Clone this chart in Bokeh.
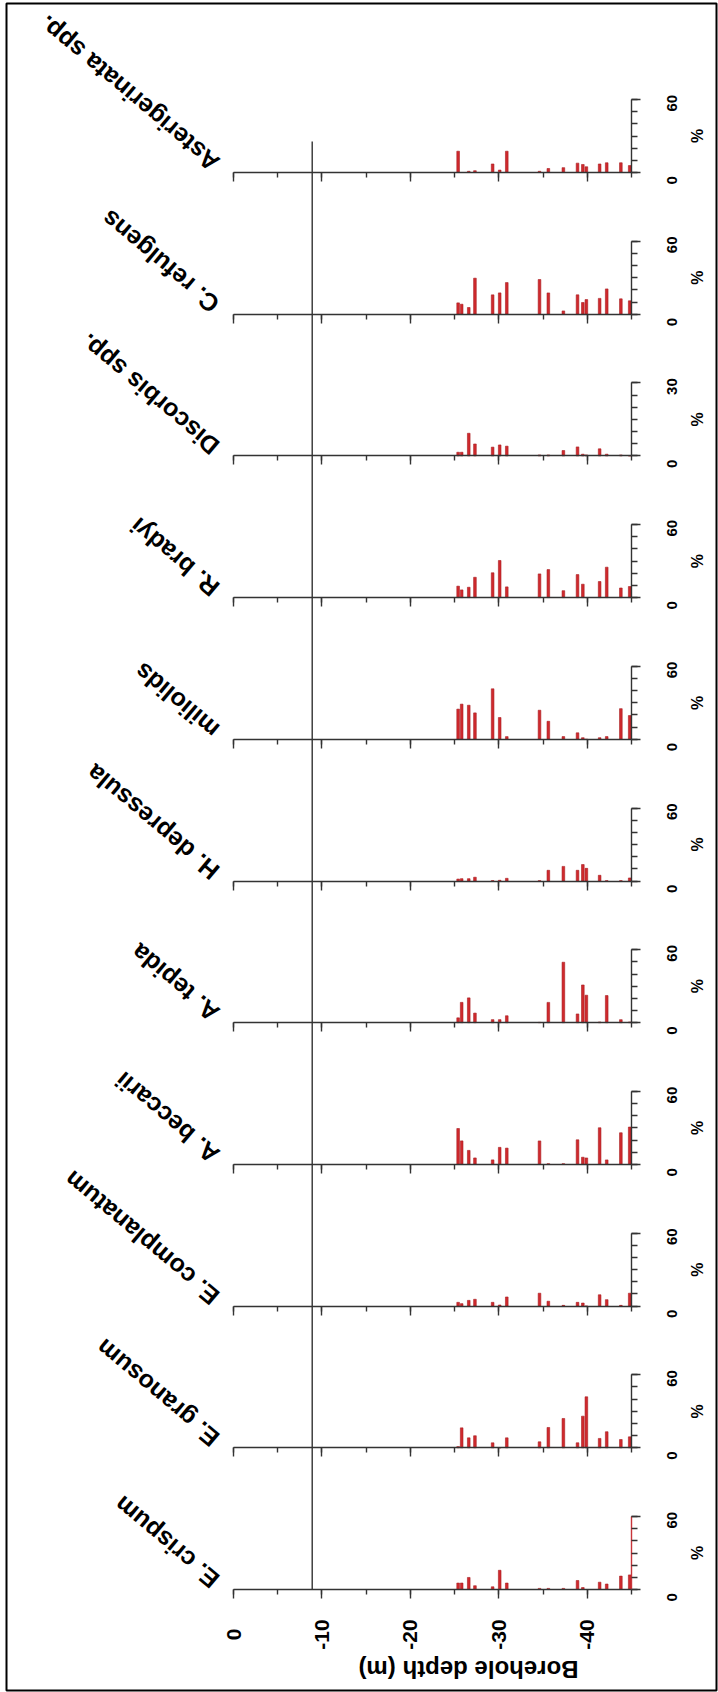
import math
from bokeh.plotting import figure
from bokeh.models import Range1d, LinearAxis, SingleIntervalTicker, FixedTicker
from bokeh.core.properties import value
from bokeh.embed import file_html
from bokeh.resources import INLINE

# ---------------- data ----------------
species = ["E. crispum", "E. granosum", "E. complanatum", "A. beccarii", "A. tepida",
           "H. depressula", "miliolids", "R. bradyi", "Discorbis spp.", "C. refulgens",
           "Asterigerinata spp."]
pct_max = [60, 60, 60, 60, 60, 60, 60, 60, 30, 60, 60]

depths = [-25.4, -25.8, -26.6, -27.3, -29.3, -30.1, -30.9, -34.6, -35.6, -37.3,
          -38.9, -39.5, -39.9, -41.4, -42.2, -43.8, -44.8]

e_crispum = [5.3, 5.3, 9.9, 3.1, 2.2, 15.8, 5.3, 0.9, 0.9, 0.9, 7.4, 1.6, 0.0, 6.0, 4.5, 11.0, 12.0]
e_granosum = [1.0, 16.4, 8.2, 9.9, 4.1, 0.0, 8.2, 4.9, 16.7, 24.1, 4.1, 26.0, 41.9, 7.7, 13.2, 6.8, 9.0]
e_complanatum = [3.1, 2.0, 4.7, 5.6, 3.1, 0.9, 7.5, 10.6, 4.0, 0.6, 3.1, 2.5, 0.0, 9.3, 5.3, 0.6, 10.6]
a_beccarii = [29.5, 19.3, 11.5, 5.3, 3.7, 14.0, 13.4, 19.3, 0.6, 0.6, 20.2, 5.9, 5.3, 30.1, 3.7, 26.0, 30.7]
a_tepida = [4.0, 16.7, 20.4, 7.9, 2.5, 2.5, 5.7, 0.3, 16.7, 49.7, 7.2, 31.0, 22.6, 0.6, 22.3, 2.5, 0.6]
h_depressula = [1.6, 1.9, 1.9, 3.1, 0.3, 0.6, 2.2, 0.3, 8.8, 12.0, 8.8, 13.5, 10.4, 4.7, 0.3, 0.3, 2.5]
miliolids = [24.8, 28.9, 28.0, 21.7, 41.5, 17.9, 2.2, 23.9, 14.8, 2.2, 5.3, 1.3, 0.0, 1.3, 2.2, 25.2, 19.5]
r_bradyi = [9.4, 6.3, 8.5, 16.7, 20.4, 30.5, 8.8, 19.5, 23.0, 5.7, 18.9, 11.0, 0.0, 13.2, 25.0, 7.9, 9.1]
discorbis = [1.5, 1.5, 9.3, 4.9, 3.6, 4.5, 4.0, 0.4, 0.4, 2.2, 3.7, 0.7, 0.4, 2.9, 0.7, 0.4, 0.0]
c_refulgens = [9.3, 8.2, 5.5, 29.6, 15.9, 17.5, 26.0, 28.5, 17.5, 2.7, 15.9, 9.6, 12.0, 13.0, 20.8, 12.6, 11.0]
asterigerinata = [17.5, 0.0, 1.0, 1.5, 7.0, 2.0, 17.5, 1.0, 3.3, 4.0, 7.7, 6.6, 4.7, 7.0, 8.0, 8.0, 5.7]

series = [e_crispum, e_granosum, e_complanatum, a_beccarii, a_tepida, h_depressula,
          miliolids, r_bradyi, discorbis, c_refulgens, asterigerinata]

depth_ticks = [0, -10, -20, -30, -40]
depth_tick_labels = ["0", "-10", "-20", "-30", "-40"]
depth_min = -45
marker_depth = -8.9
axis_title = "Borehole depth (m)"
pct_title = "%"

# ---------------- layout (pixels) ----------------
W, H = 718, 1692
FL, FR, FT, FB = 6, 716, 3, 1690
X0_PX = 233.0
PX_PER_M = 8.844
B_TOP = 172.0
B_STEP = 141.7
AX_H = 73.0

def dx(px):
    return (X0_PX - px) / PX_PER_M

FONT = value("Liberation Sans")
AX_COL = "#333333"
BAR_FILL = "#d0292d"
BAR_LINE = "#a81e22"

x_range = Range1d(dx(FL), dx(FR))
y_range = Range1d(FB, FT)  # pixel rows from top (for labels)

p = figure(width=W, height=H, x_range=x_range, y_range=y_range,
           x_axis_type=None, y_axis_type=None, output_backend="svg",
           toolbar_location=None, min_border_left=FL, min_border_right=W - FR,
           min_border_top=FT, min_border_bottom=H - FB)
p.title.visible = False
p.outline_line_color = "black"
p.outline_line_width = 2
p.background_fill_color = "white"
p.border_fill_color = "white"

n = len(species)
b_bottom = B_TOP + (n - 1) * B_STEP

for k, (name, vals, vmax) in enumerate(zip(species, series, pct_max)):
    j = n - 1 - k
    b = B_TOP + j * B_STEP
    kk = AX_H / vmax
    rname = "p%d" % k
    p.extra_y_ranges[rname] = Range1d(start=(b - FB) / kk, end=(b - FT) / kk)

    p.vbar(x=depths, width=0.3, bottom=0, top=vals, y_range_name=rname,
           fill_color=BAR_FILL, line_color=BAR_LINE, line_width=0.6)

    xa = LinearAxis(y_range_name=rname, fixed_location=0, bounds=(depth_min, 0),
                    ticker=SingleIntervalTicker(interval=10, num_minor_ticks=2))
    xa.axis_line_color = AX_COL
    xa.axis_line_width = 1.4
    xa.major_tick_line_color = AX_COL
    xa.minor_tick_line_color = AX_COL
    xa.major_tick_line_width = 1.4
    xa.minor_tick_line_width = 1.4
    xa.major_tick_in = 0
    xa.major_tick_out = 9
    xa.minor_tick_in = 0
    xa.minor_tick_out = 5
    xa.major_label_text_color = None
    p.add_layout(xa, "below")

    ya = LinearAxis(y_range_name=rname, fixed_location=depth_min, bounds=(0, vmax),
                    ticker=FixedTicker(ticks=[0, vmax],
                                       minor_ticks=[vmax * i / 6 for i in range(7)]))
    ya.axis_line_color = "#c8353a" if k == 0 else AX_COL
    ya.axis_line_width = 1.4
    ya.major_tick_line_color = AX_COL
    ya.minor_tick_line_color = AX_COL
    ya.major_tick_line_width = 1.4
    ya.minor_tick_line_width = 1.4
    ya.major_tick_in = 0
    ya.major_tick_out = 9
    ya.minor_tick_in = 0
    ya.minor_tick_out = 6
    ya.major_label_text_color = None
    p.add_layout(ya, "right")

    # % tick labels
    p.text(x=[dx(671)] * 2, y=[0, vmax], text=["0", str(vmax)], y_range_name=rname,
           angle=math.pi / 2, text_align="left", text_baseline="middle", y_offset=12,
           text_font=FONT, text_font_style="bold", text_font_size=value("15px"),
           text_color="black")
    p.text(x=[dx(697)], y=[vmax / 2], text=[pct_title], y_range_name=rname,
           angle=math.pi / 2, text_align="center", text_baseline="middle",
           text_font=FONT, text_font_style="bold", text_font_size=value("16px"),
           text_color="black")
    # species title
    p.text(x=[dx(215)], y=[b - 6], text=[name], angle=math.radians(140),
           text_align="left", text_baseline="alphabetic",
           text_font=FONT, text_font_style="bold", text_font_size=value("25px"),
           text_color="black")

# marker line across panels
p.segment(x0=[marker_depth], y0=[141], x1=[marker_depth], y1=[b_bottom],
          line_color=AX_COL, line_width=1.4)

# depth tick labels
p.text(x=depth_ticks, y=[b_bottom + 45] * len(depth_ticks), text=depth_tick_labels,
       angle=math.pi / 2, text_align="center", text_baseline="middle",
       text_font=FONT, text_font_style="bold", text_font_size=value("21px"),
       text_color="black")
# depth axis title
p.text(x=[dx(468)], y=[1669], text=[axis_title], angle=math.pi,
       text_align="center", text_baseline="middle",
       text_font=FONT, text_font_style="bold", text_font_size=value("24px"),
       text_color="black")

open("out.html", "w").write(file_html(p, INLINE))
